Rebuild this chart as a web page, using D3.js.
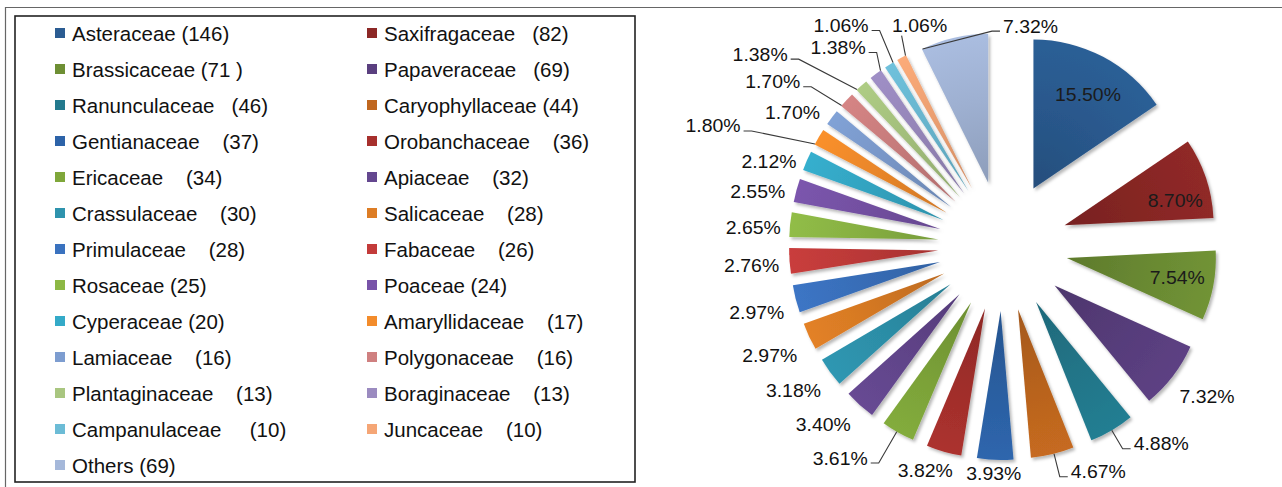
<!DOCTYPE html>
<html>
<head>
<meta charset="utf-8">
<script src="https://cdn.jsdelivr.net/npm/d3@7"></script>
<style>
  html, body { margin: 0; padding: 0; background: #fff; }
  svg { display: block; font-family: "Liberation Sans", Arial, Helvetica, sans-serif; }
</style>
</head>
<body>
<svg id="chart" width="1282" height="487"></svg>
<script>
// Plant families and number of species in each
const families = [
  "Asteraceae", "Saxifragaceae", "Brassicaceae", "Papaveraceae", "Ranunculaceae",
  "Caryophyllaceae", "Gentianaceae", "Orobanchaceae", "Ericaceae", "Apiaceae",
  "Crassulaceae", "Salicaceae", "Primulaceae", "Fabaceae", "Rosaceae",
  "Poaceae", "Cyperaceae", "Amaryllidaceae", "Lamiaceae", "Polygonaceae",
  "Plantaginaceae", "Boraginaceae", "Campanulaceae", "Juncaceae", "Others"
];
const counts = [146, 82, 71, 69, 46, 44, 37, 36, 34, 32, 30, 28, 28, 26, 25, 24, 20, 17, 16, 16, 13, 13, 10, 10, 69];

const colors = [
  "#2b5c92", "#8c2826", "#6e8f34", "#5a3f7f", "#237a8e",
  "#c0671f", "#2d63a8", "#a7302d", "#7fa73a", "#64478f",
  "#2e93ad", "#dd7d25", "#3a72bf", "#c33b3a", "#8db845",
  "#7853a8", "#34aac8", "#f38c2b", "#7d9dd0", "#cf8080",
  "#a9c680", "#9b8bc0", "#6cbcd6", "#f5a676", "#a5b8da"
];

// spaces between a family name and its count in the legend
const legendGaps = [1, 3, 1, 3, 3, 1, 4, 4, 4, 4, 4, 4, 4, 4, 1, 1, 1, 4, 4, 4, 4, 4, 5, 4, 1];

// the three largest slices carry their label inside
const insideLabel = counts.map((c, i) => i < 3);
// labels pushed away from their slice get a leader line
const hasLeader = [0,0,0,0,1,1,0,0,1,0,0,0,0,0,0,0,0,1,0,1,1,1,1,1,1];
// fine adjustment of each percentage label, in pixels
const labelNudges = [
  [3, 3], [6, 10], [2, -1], [4, 9], [30, -2], [37, 0], [0, -4], [-8, 2], [-39, 10], [-11, 6],
  [-6, 8], [-5, 11], [-2, 9], [0, 3], [1, 5], [-2, 6], [-3, 8], [-73, -2], [-9, 6], [-46, -6],
  [-76, -18], [-15, -12], [-28, -24], [36, -16], [85, 6]
];

const W = 1282, H = 487;
const svg = d3.select("#chart");
const total = d3.sum(counts);
const pctText = counts.map(c => (c / total * 100).toFixed(2) + "%");

// ---------- outer frame and legend box ----------
svg.append("path")
  .attr("d", `M5.5,${H} V7.5 H${W}`)
  .attr("fill", "none").attr("stroke", "#666").attr("stroke-width", 1.2);

svg.append("rect")
  .attr("x", 15).attr("y", 16).attr("width", 620).attr("height", 466)
  .attr("fill", "none").attr("stroke", "#222").attr("stroke-width", 1.6);

// ---------- legend ----------
const rowY = d3.scalePoint().domain(d3.range(13)).range([34, 466]);
const colX = d3.scaleOrdinal().domain([0, 1]).range([55, 367]);

const legendText = families.map((f, i) =>
  f + " ".repeat(legendGaps[i]) + "(" + counts[i] + (f === "Brassicaceae" ? " )" : ")"));

const items = svg.append("g").attr("class", "legend")
  .selectAll("g").data(families).join("g")
  .attr("transform", (d, i) => `translate(${colX(i % 2)},${rowY(Math.floor(i / 2))})`);

items.append("rect")
  .attr("x", 0).attr("y", -6).attr("width", 10).attr("height", 10)
  .attr("fill", (d, i) => colors[i]);

items.append("text")
  .attr("x", 17).attr("dy", "0.36em")
  .attr("font-size", 20.5).attr("fill", "#111")
  .attr("xml:space", "preserve").style("white-space", "pre")
  .text((d, i) => legendText[i]);

// ---------- exploded pie ----------
const C = { x: 1003, y: 246 };
const R = 149, EXPLODE = 65;
const dir = a => [Math.sin(a), -Math.cos(a)];

const arcs = d3.pie().sort(null).value(d => d)(counts);
const arcGen = d3.arc().innerRadius(0).outerRadius(R);

const defs = svg.append("defs");
const shadow = defs.append("filter").attr("id", "slice-shadow")
  .attr("x", "-20%").attr("y", "-20%").attr("width", "140%").attr("height", "140%");
shadow.append("feDropShadow")
  .attr("dx", 2).attr("dy", 2.5).attr("stdDeviation", 1.6)
  .attr("flood-color", "#000").attr("flood-opacity", 0.28);

colors.forEach((c, i) => {
  const g = defs.append("radialGradient").attr("id", "grad-" + i)
    .attr("gradientUnits", "userSpaceOnUse")
    .attr("cx", 0).attr("cy", 0).attr("r", R);
  g.append("stop").attr("offset", 0).attr("stop-color", d3.color(c).darker(0.45));
  g.append("stop").attr("offset", 0.55).attr("stop-color", d3.color(c).darker(0.12));
  g.append("stop").attr("offset", 1).attr("stop-color", d3.color(c).brighter(0.08));
});

const midAngle = d => (d.startAngle + d.endAngle) / 2;
const apexOf = d => {
  const [sx, sy] = dir(midAngle(d));
  return [C.x + EXPLODE * sx, C.y + EXPLODE * sy];
};

const pieG = svg.append("g").attr("class", "pie");
pieG.selectAll("g.slice").data(arcs).join("g")
  .attr("class", "slice")
  .attr("transform", d => `translate(${apexOf(d)[0]},${apexOf(d)[1]})`)
  .append("path")
  .attr("d", arcGen)
  .attr("fill", (d, i) => `url(#grad-${i})`)
  .attr("filter", "url(#slice-shadow)");

// ---------- percentage labels ----------
const FONT = 18, STRETCH = 1.08;
const labelG = svg.append("g").attr("class", "labels");
const leaderG = svg.insert("g", ".labels").attr("class", "leaders");

arcs.forEach((d, i) => {
  const a = midAngle(d);
  const [sx, sy] = dir(a);
  const apex = apexOf(d);
  let lx, ly;
  if (insideLabel[i]) {
    lx = apex[0] + 0.74 * R * sx;
    ly = apex[1] + 0.74 * R * sy;
  } else {
    const ax = apex[0] + R * sx, ay = apex[1] + R * sy;
    lx = ax + sx * 38;
    ly = ay + sy * 18;
  }
  lx += labelNudges[i][0];
  ly += labelNudges[i][1];

  const t = labelG.append("text")
    .attr("transform", `translate(${lx},${ly}) scale(${STRETCH},1)`)
    .attr("text-anchor", "middle").attr("dy", "0.36em")
    .attr("font-size", FONT)
    .attr("fill", insideLabel[i] ? "#1b1b1b" : "#111")
    .text(pctText[i]);

  if (!hasLeader[i]) return;

  const halfW = t.node().getComputedTextLength() * STRETCH / 2;
  const midX = apex[0] + R * sx;
  let attach, elbow = null;
  if (midX > lx - halfW && midX < lx + halfW) {
    attach = [Math.max(lx - halfW + 6, Math.min(lx + halfW - 6, midX)), ly + 10];
  } else if (midX < lx) {
    attach = [lx - halfW - 3, ly + 5];
    elbow = [attach[0] - 8, attach[1]];
  } else {
    attach = [lx + halfW + 3, ly + 5];
    elbow = [attach[0] + 8, attach[1]];
  }
  // point on the slice's outer edge closest in direction to the label
  const ref = elbow || attach;
  let ang = Math.atan2(ref[0] - apex[0], -(ref[1] - apex[1]));
  if (ang < 0) ang += 2 * Math.PI;
  const eps = 0.004;
  ang = Math.max(d.startAngle + eps, Math.min(d.endAngle - eps, ang));
  const [ex, ey] = dir(ang);
  const edge = [apex[0] + R * ex, apex[1] + R * ey];

  const pts = elbow ? [edge, elbow, attach] : [edge, attach];
  leaderG.append("path")
    .attr("d", d3.line()(pts))
    .attr("fill", "none").attr("stroke", "#3a3a3a").attr("stroke-width", 1.1);
});
</script>
</body>
</html>
